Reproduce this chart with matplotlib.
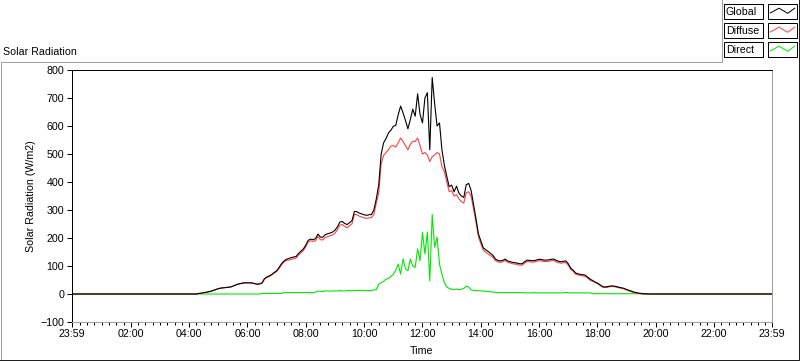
import numpy as np
import matplotlib

matplotlib.use("Agg")
import matplotlib.pyplot as plt
from matplotlib.patches import Rectangle
from matplotlib.ticker import FixedLocator

plt.rcParams["font.family"] = ["Liberation Sans", "DejaVu Sans"]

# 5-minute readings from 04:00 to 20:00 (W/m2), one row per hour; zero at night
global_wm2 = [
    0, 0, 0, 0, 2, 3, 5, 6, 8, 10, 13, 16,  # 04
    19, 21, 22, 23, 24, 25, 28, 32, 35, 37, 39, 40,  # 05
    40, 40, 39, 37, 35, 36, 40, 55, 61, 65, 70, 77,  # 06
    83, 95, 108, 118, 124, 127, 130, 132, 134, 145, 153, 161,  # 07
    175, 192, 196, 194, 198, 214, 203, 203, 212, 215, 218, 221,  # 08
    228, 240, 257, 259, 252, 248, 255, 262, 295, 294, 289, 286,  # 09
    283, 281, 283, 284, 300, 340, 390, 500, 540, 555, 575, 585,  # 10
    599, 602, 640, 671, 647, 620, 590, 623, 660, 635, 715, 641,  # 11
    611, 700, 719, 515, 773, 680, 600, 611, 515, 460, 420, 383,  # 12
    389, 365, 385, 360, 350, 345, 390, 395, 370, 320, 270, 215,  # 13
    190, 165, 158, 152, 145, 138, 125, 120, 118, 120, 125, 118,  # 14
    116, 113, 112, 110, 108, 108, 115, 121, 120, 119, 119, 122,  # 15
    124, 123, 121, 121, 122, 124, 125, 120, 117, 115, 117, 118,  # 16
    108, 92, 85, 75, 72, 70, 69, 67, 60, 53, 48, 43,  # 17
    39, 33, 27, 25, 26, 28, 29, 28, 26, 24, 22, 20,  # 18
    16, 13, 10, 7, 5, 3, 2, 1, 1, 0, 0, 0,  # 19
    0,  # 20:00
]
diffuse_wm2 = [
    0, 0, 0, 0, 2, 3, 5, 6, 8, 10, 13, 16,
    19, 21, 22, 23, 24, 25, 28, 32, 35, 37, 39, 40,
    40, 40, 39, 37, 35, 36, 38, 53, 59, 63, 68, 75,
    80, 91, 104, 114, 120, 121, 124, 126, 128, 139, 147, 155,
    169, 186, 190, 188, 190, 205, 194, 193, 202, 205, 208, 211,
    217, 230, 246, 248, 241, 237, 244, 251, 284, 283, 278, 275,
    272, 270, 272, 273, 285, 325, 360, 465, 495, 505, 515, 528,
    530, 525, 540, 557, 545, 530, 515, 535, 545, 545, 557, 530,
    500, 505, 497, 473, 490, 497, 505, 500, 455, 437, 400, 365,
    370, 350, 355, 340, 330, 325, 362, 365, 350, 305, 258, 205,
    180, 157, 149, 143, 137, 131, 119, 115, 113, 115, 120, 113,
    111, 108, 107, 105, 103, 103, 110, 116, 115, 114, 114, 117,
    119, 118, 116, 116, 117, 119, 120, 115, 112, 110, 112, 112,
    103, 88, 81, 71, 68, 66, 65, 63, 56, 49, 46, 41,
    37, 31, 25, 23, 24, 26, 27, 26, 24, 22, 20, 18,
    14, 11, 8, 5, 3, 2, 1, 0, 0, 0, 0, 0,
    0,
]
direct_wm2 = [
    0, 0, 0, 0, 0, 0, 0, 0, 0, 0, 0, 0,
    0, 0, 0, 0, 0, 0, 0, 0, 0, 0, 0, 0,
    0, 0, 0, 0, 0, 0, 2, 2, 2, 2, 2, 2,
    2, 2, 2, 5, 5, 5, 5, 5, 5, 5, 5, 5,
    5, 5, 5, 5, 7, 10, 10, 9, 11, 11, 10, 11,
    11, 11, 12, 11, 11, 12, 12, 12, 12, 13, 13, 13,
    13, 12, 12, 12, 15, 15, 35, 41, 45, 53, 55, 62,
    71, 85, 107, 71, 125, 90, 83, 125, 100, 95, 161, 119,
    221, 143, 221, 47, 284, 167, 203, 107, 71, 41, 25, 20,
    17, 16, 18, 15, 17, 20, 28, 25, 15, 13, 12, 12,
    11, 10, 10, 9, 8, 7, 6, 5, 5, 5, 5, 5,
    5, 5, 5, 5, 5, 5, 4, 4, 4, 4, 5, 4,
    4, 4, 4, 4, 4, 4, 4, 4, 4, 4, 4, 6,
    4, 4, 4, 4, 4, 4, 4, 4, 4, 4, 1, 1,
    1, 1, 1, 1, 1, 1, 1, 1, 1, 1, 1, 1,
    1, 1, 1, 1, 1, 1, 1, 0, 0, 0, 0, 0,
    0,
]

series_names = ["Global", "Diffuse", "Direct"]
series_colors = ["#000000", "#ff4040", "#00e800"]

tick_minutes = [-1, 120, 240, 360, 480, 600, 720, 840, 960, 1080, 1200, 1320, 1439]
tick_labels = ["23:59", "02:00", "04:00", "06:00", "08:00", "10:00", "12:00",
               "14:00", "16:00", "18:00", "20:00", "22:00", "23:59"]

# time axis in minutes after midnight; 23:59 of the day before is -1
minutes = np.concatenate([[-1], np.arange(240, 1201, 5), [1439]])
values = [np.concatenate([[0], np.array(s, float), [0]])
          for s in (global_wm2, diffuse_wm2, direct_wm2)]

W, H = 800, 361
PX = 0.72  # one pixel in points at 100 dpi
FS = 7.7

fig = plt.figure(figsize=(W / 100, H / 100), dpi=100)
fig.patch.set_facecolor("white")

# overlay in pixel coordinates for the panel frame and the legend
ov = fig.add_axes([0, 0, 1, 1])
ov.set_xlim(0, W)
ov.set_ylim(H, 0)
ov.axis("off")
ov.plot([0.5, 0.5, 721.5, 721.5], [360, 61.5, 61.5, 0], color="#a0a0a0", lw=PX)
ov.plot([798.5, 798.5, 0], [0, 359.5, 359.5], color="#202020", lw=PX)

for i, (name, col) in enumerate(zip(series_names, series_colors)):
    y0 = 4 + 19 * i
    ov.add_patch(Rectangle((724, y0), 39, 15, facecolor="white", edgecolor="black", lw=PX))
    ov.text(726, y0 + 7.8, name, ha="left", va="center", fontsize=FS)
    ov.add_patch(Rectangle((768, y0), 29, 15, facecolor="white", edgecolor="black", lw=PX))
    zx = 768 + np.array([0.08, 0.38, 0.68, 0.92]) * 29
    zy = y0 + 15 - np.array([0.4, 0.72, 0.38, 0.72]) * 15
    ov.plot(zx, zy, color=col, lw=PX)

ax = fig.add_axes([72 / W, 1 - 322 / H, 700 / W, 252 / H])
ax.set_facecolor("white")
for name, col, v in reversed(list(zip(series_names, series_colors, values))):
    ax.plot(minutes, v, color=col, lw=0.8, label=name)

ax.set_xlim(-1, 1439)
ax.set_ylim(-100, 800)
ax.set_yticks(range(-100, 801, 100))
ax.set_xticks(tick_minutes)
ax.set_xticklabels(tick_labels)
ax.xaxis.set_minor_locator(FixedLocator([m for m in range(15, 1440, 15) if m % 120]))

for side in ("top", "left"):
    ax.spines[side].set_color("black")
for side in ("bottom", "right"):
    ax.spines[side].set_color("#a0a0a0")
for sp in ax.spines.values():
    sp.set_linewidth(PX)

ax.tick_params(axis="both", which="major", direction="out", length=5 * PX,
               width=PX, color="black", labelsize=FS)
ax.tick_params(axis="x", which="major", pad=1.5)
ax.tick_params(axis="y", which="major", pad=2)
ax.tick_params(axis="x", which="minor", direction="out", length=3 * PX,
               width=PX, color="black")

fig.text(3 / W, 1 - 52 / H, "Solar Radiation", ha="left", va="center", fontsize=FS)
fig.text(31.5 / W, 1 - 196 / H, "Solar Radiation (W/m2)", rotation=90,
         ha="center", va="center", fontsize=FS)
fig.text(422 / W, 1 - 351.5 / H, "Time", ha="center", va="center", fontsize=FS)

fig.savefig("out.png", dpi=100)
plt.close(fig)
